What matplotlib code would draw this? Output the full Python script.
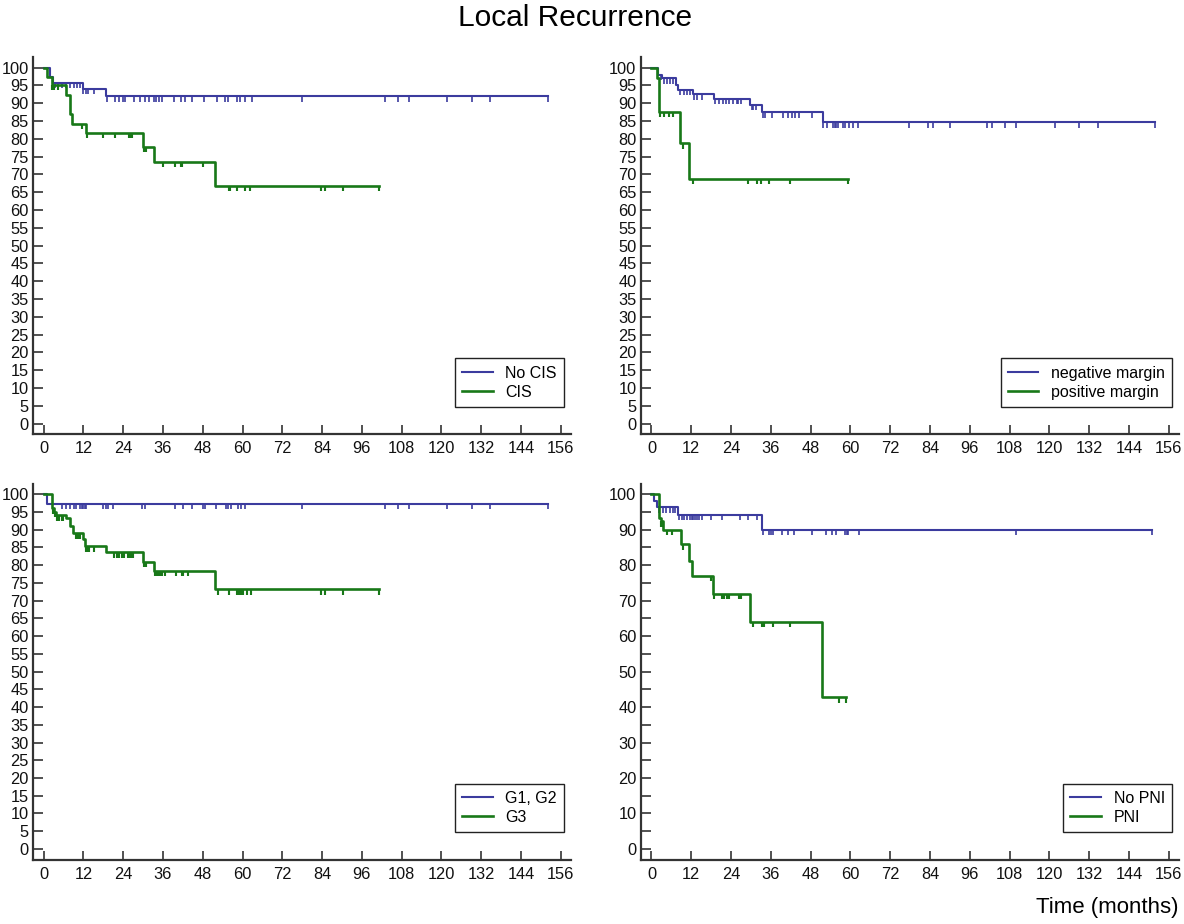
import numpy as np
import matplotlib.pyplot as plt
from matplotlib.ticker import MultipleLocator

plt.rcParams['font.family'] = ['Liberation Sans', 'DejaVu Sans']

BLUE = '#3b3b9e'
GREEN = '#187818'

# Kaplan-Meier curves (months, % without local recurrence)

# panel 1: CIS
nocis_times = [1.9, 2.9, 11.8, 18.8]
nocis_surv = [97.4, 95.8, 94.1, 91.9]
nocis_cens = [3.4, 4.4, 5.4, 6.7, 8.1, 9.1, 10.1, 10.9, 11.9, 12.8, 13.4, 15.3,
              19.2, 21.5, 22.7, 23.8, 24.6, 27.2, 29.1, 30.6, 31.8, 33.2, 33.9, 34.8,
              35.8, 39.2, 41.4, 42.7, 44.9, 48.4, 52.2, 54.7, 55.5, 58.4, 59.2, 60.7,
              62.8, 78, 103, 106.8, 110.2, 121.8, 129.3, 134.7]
nocis_end = 152

cis_times = [0.9, 2.4, 6.9, 7.9, 8.7, 12.8, 29.9, 33.3, 51.7]
cis_surv = [97.4, 95.2, 92.4, 87.0, 84.2, 81.6, 77.8, 73.5, 66.8]
cis_cens = [2.6, 3.2, 4.4, 11.5, 13.1, 18, 21.5, 25.8, 26.2, 26.6, 30.2, 30.8,
            36.1, 39.6, 41.4, 41.8, 48.1, 55.8, 56.2, 58.2, 60.7, 62.2, 83.6, 85, 90.2]
cis_end = 101.2

# panel 2: margin
neg_times = [2.1, 3.1, 7.4, 8.1, 12.6, 18.8, 29.7, 33.4, 51.6]
neg_surv = [97.9, 97.0, 95.1, 93.7, 92.5, 91.3, 89.5, 87.4, 84.6]
neg_cens = [2.9, 3.8, 4.6, 5.6, 6.4, 8.6, 9.8, 10.6, 11.6, 12.9, 13.8, 15.1,
            19.1, 20.4, 21.5, 22.4, 23.4, 24.5, 25.7, 26.2, 26.9, 30.2, 30.7, 31.5,
            33.5, 34.2, 36.2, 39.6, 41.3, 42.3, 43.3, 44.6, 48.3, 51.8, 52.8, 54.8,
            55.3, 55.8, 56.3, 57.8, 58.4, 59.6, 60.9, 62.4, 77.7, 83.5, 85, 90,
            101.1, 102.8, 106.6, 109.9, 121.7, 129, 134.6]
neg_end = 151.8

pos_times = [1.8, 2.3, 8.6, 11.4]
pos_surv = [97.0, 87.5, 78.7, 68.7]
pos_cens = [2.6, 3.8, 5.2, 6.6, 9.4, 12.6, 29, 31.7, 33, 35.4, 41.8]
pos_end = 59.4

# panel 3: grade
g12_times = [0.9]
g12_surv = [97.3]
g12_cens = [5.4, 6.9, 7.9, 9.1, 9.7, 10.9, 11.5, 11.9, 12.5, 12.8, 18, 18.8, 19.5,
            21, 29.6, 30.6, 39.6, 42.1, 44.9, 48.1, 48.6, 52, 54.9, 55.5, 56.5,
            58.7, 59.4, 60.7, 78, 103, 106.8, 110.2, 121.8, 129.3, 134.7]
g12_end = 152

g3_times = [2.4, 3.1, 3.7, 6.9, 8.1, 8.9, 11.8, 12.6, 18.8, 29.9, 33.3, 51.7]
g3_surv = [96.0, 95.0, 94.0, 93.4, 91.0, 89.0, 87.3, 85.3, 83.6, 80.9, 78.3, 73.2]
g3_cens = [2.9, 3.4, 4.1, 4.7, 5.4, 5.9, 9.7, 10.4, 10.9, 12.8, 13.1, 13.8, 15.3,
           21.3, 22, 22.7, 23.5, 24.2, 25.3, 26, 26.5, 27, 30.3, 30.8, 33.6, 34.1,
           34.6, 35.1, 35.6, 36.6, 39.8, 41.6, 41.9, 43.4, 52.7, 55.9, 58.4, 58.9,
           59.4, 60.2, 61.2, 62.4, 83.6, 85, 90.2]
g3_end = 101.2

# panel 4: PNI
nopni_times = [0.9, 1.6, 8.1, 33.2]
nopni_surv = [98.2, 96.3, 94.2, 89.9]
nopni_cens = [2.4, 3.4, 4.4, 5.6, 6.4, 7.1, 8.4, 9.1, 9.8, 10.6, 11.6, 12.1, 12.6,
              13.1, 13.6, 14.4, 15.1, 17.9, 21.2, 26.7, 29.2, 31.7, 33.7, 35.4, 36,
              36.5, 39.3, 41.2, 43, 48.3, 52.6, 54.3, 55.6, 58.4, 58.9, 59.4, 62.7,
              109.9]
nopni_end = 151.1

pni_times = [2.4, 2.8, 3.6, 8.8, 11.4, 12.1, 18.5, 29.7, 51.5]
pni_surv = [93.2, 92.3, 89.9, 85.9, 81.3, 77.0, 71.9, 64.1, 42.7]
pni_cens = [2.9, 3.4, 4.6, 6.1, 9.6, 17.9, 18.9, 21.2, 21.9, 22.9, 23.5, 26.5, 27,
            30.5, 33.2, 34, 36.5, 41.8, 56.6]
pni_end = 58.6

xticks = np.arange(0, 157, 12)


def km(ax, times, surv, cens, end, color, lw, label):
    t = [0] + times + [end]
    s = [100] + surv + [surv[-1]]
    ax.step(t, s, where='post', color=color, lw=lw, label=label, zorder=3)
    ct = np.array(cens + [end])
    levels = np.array([100] + surv)
    cy = levels[np.searchsorted(times, ct, side='right')]
    ax.vlines(ct, cy - 1.5, cy, color=color, lw=lw * 0.8, zorder=3)


def style(ax, step10=False):
    ax.set_xlim(-3.3, 159)
    ax.set_ylim(-3, 103)
    for side in ['top', 'right']:
        ax.spines[side].set_visible(False)
    for side in ['left', 'bottom']:
        ax.spines[side].set_color('#333333')
        ax.spines[side].set_linewidth(1.6)
    ax.set_xticks(xticks)
    if step10:
        ax.yaxis.set_major_locator(MultipleLocator(10))
        ax.yaxis.set_minor_locator(MultipleLocator(5))
    else:
        ax.yaxis.set_major_locator(MultipleLocator(5))
    ax.set_yticks(ax.get_yticks()[(ax.get_yticks() >= 0) & (ax.get_yticks() <= 100)])
    ax.tick_params(axis='both', which='both', direction='in', color='#333333',
                   width=1.2, labelsize=11.8, labelcolor='#111111', pad=3)
    ax.tick_params(axis='y', which='both', length=7.5)
    ax.tick_params(axis='x', length=6.5, pad=5)
    leg = ax.legend(loc='lower right', bbox_to_anchor=(0.9875, 0.073), fontsize=11.5,
                    fancybox=False, framealpha=1, edgecolor='#222222', borderaxespad=0,
                    handlelength=1.9, labelspacing=0.25, borderpad=0.45)
    leg.get_frame().set_linewidth(1.0)


fig = plt.figure(figsize=(11.84, 9.24), dpi=100)
w, h = 0.4545, 0.4084
ax1 = fig.add_axes([0.0276, 0.530, w, h])
ax2 = fig.add_axes([0.541, 0.530, w, h])
ax3 = fig.add_axes([0.0276, 0.0697, w, 0.407])
ax4 = fig.add_axes([0.541, 0.0697, w, 0.407])

km(ax1, nocis_times, nocis_surv, nocis_cens, nocis_end, BLUE, 1.5, 'No CIS')
km(ax1, cis_times, cis_surv, cis_cens, cis_end, GREEN, 1.9, 'CIS')
km(ax2, neg_times, neg_surv, neg_cens, neg_end, BLUE, 1.5, 'negative margin')
km(ax2, pos_times, pos_surv, pos_cens, pos_end, GREEN, 1.9, 'positive margin')
km(ax3, g12_times, g12_surv, g12_cens, g12_end, BLUE, 1.5, 'G1, G2')
km(ax3, g3_times, g3_surv, g3_cens, g3_end, GREEN, 1.9, 'G3')
km(ax4, nopni_times, nopni_surv, nopni_cens, nopni_end, BLUE, 1.5, 'No PNI')
km(ax4, pni_times, pni_surv, pni_cens, pni_end, GREEN, 1.9, 'PNI')

style(ax1)
style(ax2)
style(ax3)
style(ax4, step10=True)

fig.text(0.486, 0.980, 'Local Recurrence', ha='center', va='center', fontsize=21.5)
fig.text(0.935, 0.018, 'Time (months)', ha='center', va='center', fontsize=16)

fig.savefig('out.png', dpi=100)
